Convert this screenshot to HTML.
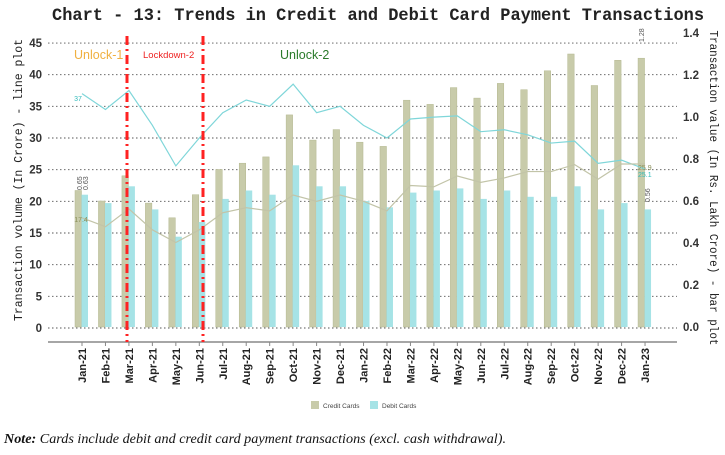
<!DOCTYPE html>
<html><head><meta charset="utf-8"><style>
body{margin:0;background:#fff;width:725px;height:455px;overflow:hidden}
svg{display:block}
</style></head><body>
<svg id="s" width="725" height="455" xmlns="http://www.w3.org/2000/svg" font-family="Liberation Sans, sans-serif"></svg>
<script>
const s=document.getElementById('s');let h='';
const m=['Jan-21','Feb-21','Mar-21','Apr-21','May-21','Jun-21','Jul-21','Aug-21','Sep-21','Oct-21','Nov-21','Dec-21','Jan-22','Feb-22','Mar-22','Apr-22','May-22','Jun-22','Jul-22','Aug-22','Sep-22','Oct-22','Nov-22','Dec-22','Jan-23'];
const cb=[0.65,0.60,0.72,0.59,0.52,0.63,0.75,0.78,0.81,1.01,0.89,0.94,0.88,0.86,1.08,1.06,1.14,1.09,1.16,1.13,1.22,1.30,1.15,1.27,1.28];
const db=[0.63,0.59,0.67,0.56,0.43,0.50,0.61,0.65,0.63,0.77,0.67,0.67,0.60,0.57,0.64,0.65,0.66,0.61,0.65,0.62,0.62,0.67,0.56,0.59,0.56];
const dl=[37,34.5,37.5,32,25.6,30,34,36,35,38.5,34,35,32,30,33,33.3,33.5,31,31.3,30.5,29.2,29.5,26,26.5,25.1];
const cl=[17.4,16,18.8,15.5,13.5,15.5,18.2,19,18.5,21,20,21,20,18.5,22.5,22.3,24,23,23.7,24.7,24.7,25.8,23.5,25.9,25.9];
const X=i=>82+i*23.46, YL=v=>328-v*6.333, YR=v=>327-v*210;
h+=`<text x="378" y="20" text-anchor="middle" font-family="Liberation Mono,monospace" font-weight="bold" font-size="17.5" fill="#222" textLength="652" lengthAdjust="spacingAndGlyphs">Chart - 13: Trends in Credit and Debit Card Payment Transactions</text>`;
for(let v=0;v<=45;v+=5){const y=YL(v);h+=`<line x1="48" x2="677" y1="${y}" y2="${y}" stroke="#555" stroke-dasharray="1.5,2.5" stroke-width="0.9"/><text x="42" y="${y+4}" text-anchor="end" font-size="11.5" font-weight="bold" fill="#333">${v}</text>`}
for(let k=0;k<=7;k++){const v=k*0.2,y=YR(v);h+=`<text x="683" y="${y+4}" font-size="11.5" font-weight="bold" fill="#333">${v.toFixed(1)}</text>`}
h+=`<line x1="48" x2="677" y1="342" y2="342" stroke="#888" stroke-width="1.5"/>`;
m.forEach((t,i)=>{const x=X(i);
h+=`<rect x="${x-7}" y="${YR(cb[i])}" width="6.5" height="${327-YR(cb[i])}" fill="#c8cbaa" stroke="#b4b890" stroke-width="0.5"/>`;
h+=`<rect x="${x-0.5}" y="${YR(db[i])}" width="6.5" height="${327-YR(db[i])}" fill="#a6e3e6"/>`;
h+=`<line x1="${x}" x2="${x}" y1="342" y2="346" stroke="#888"/>`;
h+=`<text transform="translate(${x+4},348) rotate(-90)" text-anchor="end" font-size="11" font-weight="bold" fill="#222">${t}</text>`;});
h+=`<polyline fill="none" stroke="#7fd6d9" stroke-width="1.2" points="${dl.map((v,i)=>X(i)+','+YL(v)).join(' ')}"/>`;
h+=`<polyline fill="none" stroke="#c2c4a8" stroke-width="1.2" points="${cl.map((v,i)=>X(i)+','+YL(v)).join(' ')}"/>`;
h+=`<line x1="127" x2="127" y1="36" y2="342" stroke="#f22" stroke-width="3" stroke-dasharray="9,4,2,4"/>`;
h+=`<line x1="203" x2="203" y1="36" y2="342" stroke="#f22" stroke-width="3" stroke-dasharray="9,4,2,4"/>`;
h+=`<text x="74" y="59" font-size="12.5" fill="#f0b040">Unlock-1</text><text x="143" y="58" font-size="9.5" fill="#e22">Lockdown-2</text><text x="280" y="59" font-size="12.5" fill="#2a7a2a">Unlock-2</text>`;
h+=`<text x="78" y="101" font-size="7" fill="#3bb" text-anchor="middle">37</text><text x="81" y="222" font-size="7" fill="#8a8f5a" text-anchor="middle">17.4</text>`;
h+=`<text transform="translate(82,190) rotate(-90)" font-size="7" fill="#555">0.65</text><text transform="translate(88,190) rotate(-90)" font-size="7" fill="#555">0.63</text>`;
h+=`<text transform="translate(644,42) rotate(-90)" font-size="7" fill="#555">1.28</text><text transform="translate(650,202) rotate(-90)" font-size="7" fill="#555">0.56</text>`;
h+=`<text x="638" y="170" font-size="7" fill="#8a8f5a">25.9</text><text x="638" y="177" font-size="7" fill="#3bb">25.1</text>`;
h+=`<text transform="translate(22,180) rotate(-90)" text-anchor="middle" font-family="Liberation Mono,monospace" font-size="11.5" fill="#222" textLength="282" lengthAdjust="spacingAndGlyphs">Transaction volume (In Crore) - line plot</text>`;
h+=`<text transform="translate(710,188) rotate(90)" text-anchor="middle" font-family="Liberation Mono,monospace" font-size="11.5" fill="#222" textLength="315" lengthAdjust="spacingAndGlyphs">Transaction value (In Rs. Lakh Crore) - bar plot</text>`;
h+=`<rect x="311" y="401" width="8" height="8" fill="#c8cbaa"/><text x="323" y="408" font-size="6.5" fill="#444">Credit Cards</text><rect x="370" y="401" width="8" height="8" fill="#a6e3e6"/><text x="382" y="408" font-size="6.5" fill="#444">Debit Cards</text>`;
h+=`<text x="4" y="443" font-family="Liberation Serif,serif" font-style="italic" font-size="13.5" fill="#111" textLength="502" lengthAdjust="spacingAndGlyphs"><tspan font-weight="bold">Note:</tspan> Cards include debit and credit card payment transactions (excl. cash withdrawal).</text>`;
s.innerHTML=h;
</script>
</body></html>
